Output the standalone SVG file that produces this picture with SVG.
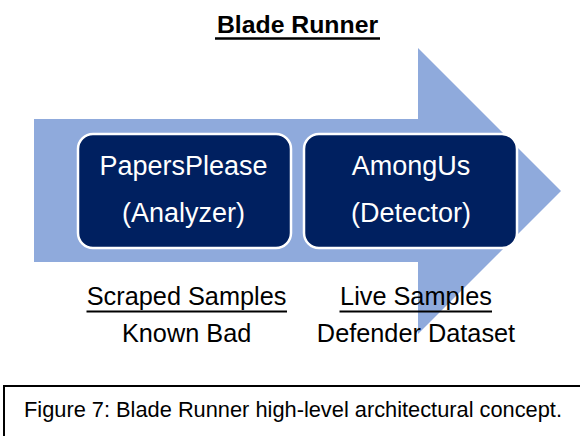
<svg xmlns="http://www.w3.org/2000/svg" width="580" height="436" viewBox="0 0 580 436">
  <style>
    .t { font-family: "Liberation Sans", Arial, sans-serif; }
    .box { fill: #002060; stroke: #ffffff; stroke-width: 2.5; }
    .boxtxt { fill: #ffffff; font-size: 27px; text-anchor: middle; }
    .lbl { fill: #000000; font-size: 25.3px; text-anchor: middle; }
    .ul { stroke: #000000; stroke-width: 1.8; }
  </style>
  <rect width="580" height="436" fill="#ffffff"/>
  <g id="title">
    <text class="t" x="297.5" y="33" font-size="24.8" font-weight="bold" text-anchor="middle" fill="#000000">Blade Runner</text>
    <line x1="215" y1="38.5" x2="380" y2="38.5" stroke="#000000" stroke-width="2.4"/>
  </g>
  <g id="process-arrow">
    <polygon points="34,119 418,119 418,48 561,191 418,334 418,262 34,262" fill="#8FAADC"/>
  </g>
  <g id="labels">
    <text class="t lbl" x="186.6" y="305">Scraped Samples</text>
    <line class="ul" x1="86.5" y1="311.5" x2="287" y2="311.5"/>
    <text class="t lbl" x="186.6" y="341.5">Known Bad</text>
    <text class="t lbl" x="416" y="305">Live Samples</text>
    <line class="ul" x1="339.5" y1="311.5" x2="492" y2="311.5"/>
    <text class="t lbl" x="416" y="341.5">Defender Dataset</text>
  </g>
  <g id="connectors"></g>
  <g id="papersplease">
    <rect class="box" x="78" y="134" width="213" height="114" rx="15" ry="15"/>
    <text class="t boxtxt" x="183.5" y="175">PapersPlease</text>
    <text class="t boxtxt" x="183.5" y="222">(Analyzer)</text>
  </g>
  <g id="amongus">
    <rect class="box" x="304" y="134" width="213" height="114" rx="15" ry="15"/>
    <text class="t boxtxt" x="411" y="175">AmongUs</text>
    <text class="t boxtxt" x="411" y="222">(Detector)</text>
  </g>
  <g id="caption">
    <rect x="4" y="386" width="600" height="100" fill="none" stroke="#000000" stroke-width="2"/>
    <text class="t" x="24" y="416.5" font-size="21.8" fill="#000000">Figure 7: Blade Runner high-level architectural concept.</text>
  </g>
</svg>
